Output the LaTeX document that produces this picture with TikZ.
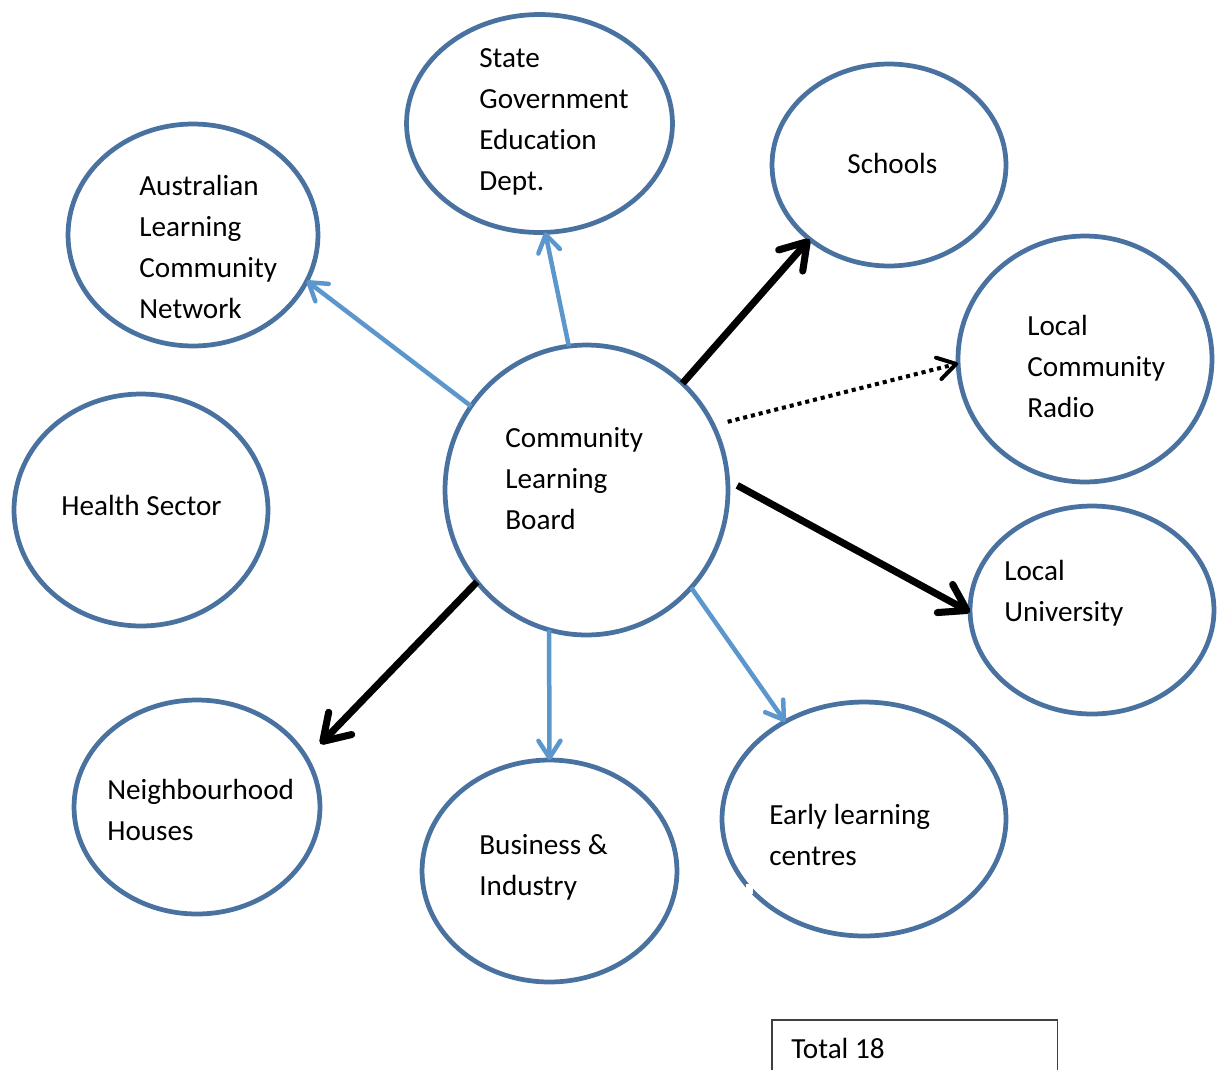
\documentclass[tikz,border=0pt]{standalone}
\usepackage{fontspec}
\setmainfont{Carlito}[Ligatures=NoCommon]
\usetikzlibrary{shapes.geometric,arrows.meta}
\definecolor{ellblue}{HTML}{4A72A0}
\definecolor{arrblue}{HTML}{5B96CC}
\definecolor{shadowgray}{HTML}{C8C8C8}
\begin{document}
\begin{tikzpicture}[x=0.02cm,y=-0.02cm,
  ell/.style={ellipse,draw=ellblue,line width=0.095cm,inner sep=0pt,outer sep=0pt},
  lbl/.style={anchor=west,align=left,inner sep=0pt,font=\fontsize{16.6}{23.3}\selectfont},
  bluearrow/.style={draw=arrblue,line width=0.09cm,-{Straight Barb[round,length=0.34cm,width=0.44cm]}},
  blackarrow/.style={draw=black,line width=0.14cm,-{Straight Barb[round,length=0.5cm,width=0.64cm]}},
  shadowarrow/.style={draw=shadowgray,line width=0.14cm,-{Straight Barb[round,length=0.5cm,width=0.64cm]},xshift=0.05cm,yshift=-0.06cm},
  dotarrow/.style={draw=black,line width=0.08cm,dash pattern=on 0.08cm off 0.08cm,-{Straight Barb[round,length=0.36cm,width=0.44cm]}},
  shadowdot/.style={draw=shadowgray,line width=0.08cm,dash pattern=on 0.08cm off 0.08cm,xshift=0.04cm,yshift=-0.06cm}
]
\useasboundingbox (0,0) rectangle (1220,1069);
\clip (0,0) rectangle (1220,1069);

% ellipses
\node[ell,minimum width=5.32cm,minimum height=4.36cm] (sg) at (539.5,123.5) {};
\node[ell,minimum width=5.00cm,minimum height=4.44cm] (alcn) at (193,235) {};
\node[ell,minimum width=4.68cm,minimum height=4.04cm] (sch) at (889,165) {};
\node[ell,minimum width=5.08cm,minimum height=4.92cm] (rad) at (1085,359) {};
\node[ell,minimum width=5.08cm,minimum height=4.64cm] (hea) at (141,510) {};
\node[ell,minimum width=5.66cm,minimum height=5.80cm] (clb) at (586.5,490) {};
\node[ell,minimum width=4.88cm,minimum height=4.16cm] (uni) at (1092,610) {};
\node[ell,minimum width=4.92cm,minimum height=4.28cm] (nbh) at (197,807) {};
\node[ell,minimum width=5.10cm,minimum height=4.44cm] (bus) at (549.5,871) {};
\node[ell,minimum width=5.68cm,minimum height=4.68cm] (elc) at (864,819) {};
\fill[white] (746,884) rectangle (753,894);

% labels
\node[lbl] (sgt) at (479,122) {State\\Government\\Education\\Dept.};
\node[lbl] (alcnt) at (139,247) {Australian\\Learning\\Community\\Network};
\node[lbl] (scht) at (847,163) {Schools};
\node[lbl] (radt) at (1027,366.5) {Local\\Community\\Radio};
\node[lbl] (heat) at (61,505) {Health Sector};
\node[lbl] (clbt) at (505,478.5) {Community\\Learning\\Board};
\node[lbl] (unit) at (1004,593.5) {Local\\University};
\node[lbl] (nbht) at (107,809.5) {Neighbourhood\\Houses};
\node[lbl] (bust) at (479,867.5) {Business \&\\Industry};
\node[lbl] (elct) at (769,834.5) {Early learning\\centres};

% total box
\node[draw=black!75,line width=0.03cm,anchor=north west,minimum width=5.72cm,minimum height=1.6cm,inner sep=0pt] (totbox) at (771,1019) {};
\node[lbl] (tott) at (791,1048) {Total 18};

% blue connectors
\draw[bluearrow] (clb.144) -- (alcn.338);
\draw[bluearrow] (clb.97.7) -- (sg.273);
\draw[bluearrow] (clb.255.4) -- (bus.90.8);
\draw[bluearrow] (clb.317) -- (elc.129);

% black connectors with shadow
\draw[shadowarrow] (clb.48.4) -- (sch.223.5);
\draw[blackarrow] (clb.48.4) -- (sch.223.5);
\draw[shadowarrow,shorten <=0.22cm] (clb.4) -- (uni.181.5);
\draw[blackarrow,shorten <=0.22cm] (clb.4) -- (uni.181.5);
\draw[shadowarrow,shorten >=0.4cm] (clb.220.6) -- (nbh.24);
\draw[blackarrow,shorten >=0.4cm] (clb.220.6) -- (nbh.24);

% dotted connector
\draw[shadowdot,shorten <=0.3cm,shorten >=0.3cm] (clb.27.1) -- (rad.182.6);
\draw[dotarrow,shorten <=0.3cm] (clb.27.1) -- (rad.182.6);
\end{tikzpicture}
\end{document}
